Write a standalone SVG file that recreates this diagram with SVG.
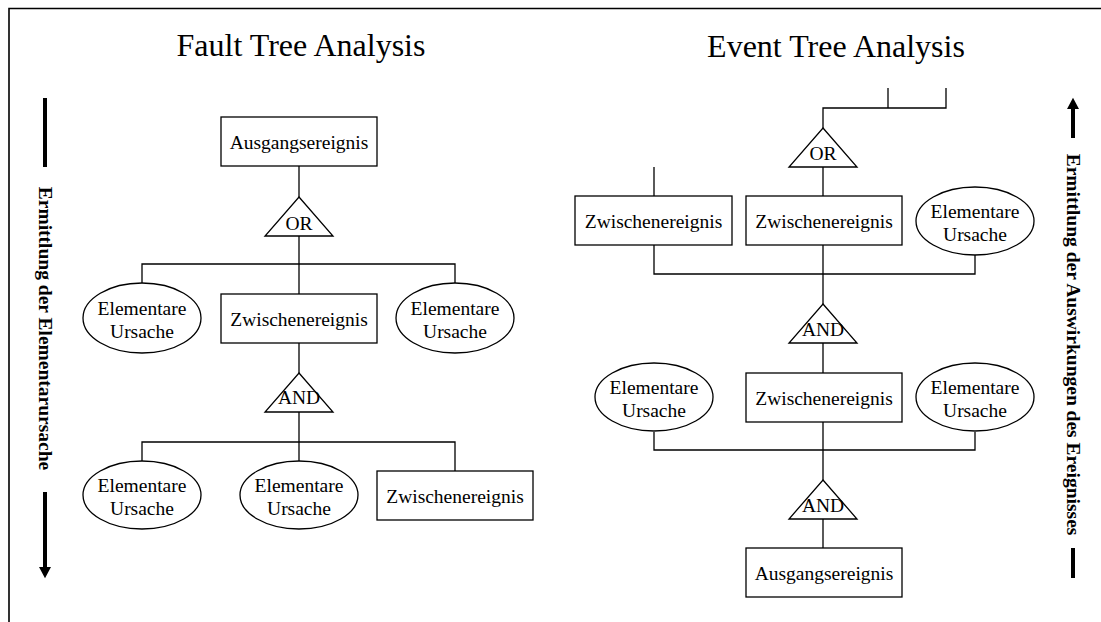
<svg xmlns="http://www.w3.org/2000/svg" width="1101" height="622" viewBox="0 0 1101 622">
  <style>
    .frame { fill: none; stroke: #000; stroke-width: 1.6; }
    .box { fill: #fff; stroke: #000; stroke-width: 1.3; }
    .gate { fill: #fff; stroke: #000; stroke-width: 1.3; }
    .wire { fill: none; stroke: #000; stroke-width: 1.3; }
    .bar { fill: none; stroke: #000; stroke-width: 4; }
    .lbl { font-family: "Liberation Serif", "Times New Roman", serif; font-size: 19.5px; fill: #000; text-anchor: middle; }
    .title { font-family: "Liberation Serif", "Times New Roman", serif; font-size: 32px; fill: #000; text-anchor: middle; }
    .side { font-family: "Liberation Serif", "Times New Roman", serif; font-size: 19.5px; font-weight: bold; fill: #000; text-anchor: middle; }
  </style>
  <defs>
    <marker id="head" markerWidth="3" markerHeight="3" refX="0" refY="1.5" orient="auto" markerUnits="strokeWidth">
      <path d="M0,0 L2.8,1.5 L0,3 Z" fill="#000"/>
    </marker>
  </defs>

  <rect width="1101" height="622" fill="#fff"/>
  <!-- page frame: top and left edges only -->
  <path class="frame" d="M9,622 V8.5 H1101"/>

  <!-- titles -->
  <text class="title" x="301" y="56">Fault Tree Analysis</text>
  <text class="title" x="836" y="57">Event Tree Analysis</text>

  <!-- direction indicators -->
  <g id="dir-left">
    <line class="bar" x1="45" y1="98" x2="45" y2="167"/>
    <text class="side" transform="translate(39,328.5) rotate(90)">Ermittlung der Elementarursache</text>
    <line class="bar" x1="45" y1="492" x2="45" y2="567" marker-end="url(#head)"/>
  </g>
  <g id="dir-right">
    <line class="bar" x1="1073" y1="138" x2="1073" y2="109" marker-end="url(#head)"/>
    <text class="side" transform="translate(1067,344.5) rotate(90)">Ermittlung der Auswirkungen des Ereignisses</text>
    <line class="bar" x1="1073" y1="548" x2="1073" y2="578"/>
  </g>

  <!-- connectors -->
  <g id="connectors">
    <!-- fault tree -->
    <path class="wire" d="M299,166 V197"/>
    <path class="wire" d="M299,236 V294"/>
    <path class="wire" d="M142,283 V264 H455 V283"/>
    <path class="wire" d="M299,343 V373"/>
    <path class="wire" d="M299,412 V461"/>
    <path class="wire" d="M142,461 V442 H455 V471"/>
    <!-- event tree -->
    <path class="wire" d="M888,88 V108"/>
    <path class="wire" d="M946,88 V108 H823 V128"/>
    <path class="wire" d="M654,167 V196"/>
    <path class="wire" d="M823,167 V196"/>
    <path class="wire" d="M654,245 V274 H975 V255"/>
    <path class="wire" d="M823,245 V304"/>
    <path class="wire" d="M823,343 V373"/>
    <path class="wire" d="M654,432 V450 H975 V432"/>
    <path class="wire" d="M823,422 V480"/>
    <path class="wire" d="M823,519 V548"/>
  </g>

  <!-- fault tree nodes -->
  <g id="ft-top">
    <rect class="box" x="221" y="117" width="156" height="49"/>
    <text class="lbl" x="299" y="148.5">Ausgangsereignis</text>
  </g>
  <g id="ft-or">
    <polygon class="gate" points="299,197 333,236 265,236"/>
    <text class="lbl" x="299" y="230">OR</text>
  </g>
  <g id="ft-basic-1">
    <ellipse class="box" cx="142" cy="318" rx="59" ry="35"/>
    <text class="lbl" x="142" y="315">Elementare</text>
    <text class="lbl" x="142" y="338">Ursache</text>
  </g>
  <g id="ft-mid">
    <rect class="box" x="221" y="294" width="156" height="49"/>
    <text class="lbl" x="299" y="325.5">Zwischenereignis</text>
  </g>
  <g id="ft-basic-2">
    <ellipse class="box" cx="455" cy="318" rx="59" ry="35"/>
    <text class="lbl" x="455" y="315">Elementare</text>
    <text class="lbl" x="455" y="338">Ursache</text>
  </g>
  <g id="ft-and">
    <polygon class="gate" points="299,373 333,412 265,412"/>
    <text class="lbl" x="299" y="404">AND</text>
  </g>
  <g id="ft-basic-3">
    <ellipse class="box" cx="142" cy="495" rx="59" ry="34"/>
    <text class="lbl" x="142" y="492">Elementare</text>
    <text class="lbl" x="142" y="515">Ursache</text>
  </g>
  <g id="ft-basic-4">
    <ellipse class="box" cx="299" cy="495" rx="59" ry="34"/>
    <text class="lbl" x="299" y="492">Elementare</text>
    <text class="lbl" x="299" y="515">Ursache</text>
  </g>
  <g id="ft-mid-2">
    <rect class="box" x="377" y="471" width="156" height="49"/>
    <text class="lbl" x="455" y="502.5">Zwischenereignis</text>
  </g>

  <!-- event tree nodes -->
  <g id="et-or">
    <polygon class="gate" points="823,128 857,167 789,167"/>
    <text class="lbl" x="823" y="160">OR</text>
  </g>
  <g id="et-mid-1">
    <rect class="box" x="575" y="196" width="157" height="49"/>
    <text class="lbl" x="653.5" y="227.5">Zwischenereignis</text>
  </g>
  <g id="et-mid-2">
    <rect class="box" x="746" y="196" width="156" height="49"/>
    <text class="lbl" x="824" y="227.5">Zwischenereignis</text>
  </g>
  <g id="et-basic-1">
    <ellipse class="box" cx="975" cy="221" rx="59" ry="34"/>
    <text class="lbl" x="975" y="217.5">Elementare</text>
    <text class="lbl" x="975" y="240.5">Ursache</text>
  </g>
  <g id="et-and-1">
    <polygon class="gate" points="823,304 857,343 789,343"/>
    <text class="lbl" x="823" y="336">AND</text>
  </g>
  <g id="et-basic-2">
    <ellipse class="box" cx="654" cy="397" rx="59" ry="34"/>
    <text class="lbl" x="654" y="393.5">Elementare</text>
    <text class="lbl" x="654" y="416.5">Ursache</text>
  </g>
  <g id="et-mid-3">
    <rect class="box" x="746" y="373" width="156" height="49"/>
    <text class="lbl" x="824" y="404.5">Zwischenereignis</text>
  </g>
  <g id="et-basic-3">
    <ellipse class="box" cx="975" cy="397" rx="59" ry="34"/>
    <text class="lbl" x="975" y="393.5">Elementare</text>
    <text class="lbl" x="975" y="416.5">Ursache</text>
  </g>
  <g id="et-and-2">
    <polygon class="gate" points="823,480 857,519 789,519"/>
    <text class="lbl" x="823" y="512">AND</text>
  </g>
  <g id="et-top">
    <rect class="box" x="746" y="548" width="156" height="49"/>
    <text class="lbl" x="824" y="579.5">Ausgangsereignis</text>
  </g>
</svg>
